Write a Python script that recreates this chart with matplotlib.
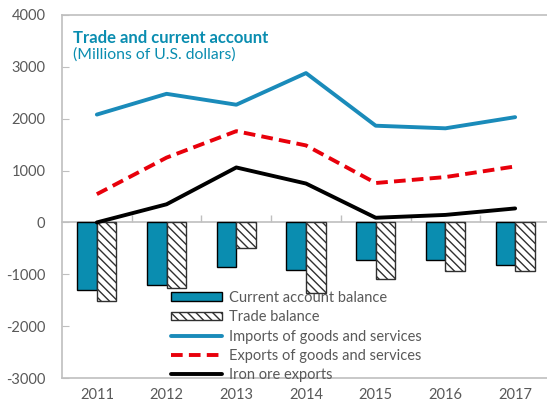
import matplotlib
matplotlib.use('Agg')
import matplotlib.pyplot as plt
import numpy as np

plt.rcParams['font.family'] = ['Lato', 'DejaVu Sans']
plt.rcParams['hatch.linewidth'] = 1.0
plt.rcParams['axes.unicode_minus'] = False

years = ['2011', '2012', '2013', '2014', '2015', '2016', '2017']
current_account = [-1310, -1200, -865, -915, -730, -730, -815]
trade_balance = [-1520, -1260, -500, -1360, -1095, -940, -940]
imports = [2080, 2480, 2270, 2880, 1865, 1815, 2030]
exports = [545, 1250, 1760, 1485, 760, 875, 1080]
iron_ore = [0, 350, 1060, 750, 90, 145, 270]

grey = '#595959'
axis_grey = '#BFBFBF'
teal = '#0A8DB0'
blue = '#1A8BBA'
red = '#E8000B'

fig = plt.figure(figsize=(5.47, 4.08), dpi=100)
ax = fig.add_axes([62 / 547, 30 / 408, 488 / 547, 363 / 408])

x = np.arange(len(years))
width = 0.28

b1 = ax.bar(x - width / 2, current_account, width, color=teal,
            edgecolor='black', linewidth=1, zorder=2)
b2 = ax.bar(x + width / 2, trade_balance, width, color='white',
            edgecolor='#303030', linewidth=1, hatch='\\\\\\\\', zorder=2)

l1, = ax.plot(x, imports, color=blue, linewidth=2.8, zorder=3,
              solid_capstyle='round')
l2, = ax.plot(x, exports, color=red, linewidth=2.8, zorder=3,
              dashes=(3.0, 1.6))
l3, = ax.plot(x, iron_ore, color='black', linewidth=2.8, zorder=3,
              solid_capstyle='round')

ax.set_xlim(-0.5, len(years) - 0.5)
ax.set_ylim(-3000, 4000)
ax.set_yticks(np.arange(-3000, 4001, 1000))
ax.tick_params(axis='y', direction='in', length=5, color=axis_grey,
               labelcolor=grey, labelsize=10.5, pad=12)

ax.set_xticks(x)
ax.set_xticklabels(years)
ax.tick_params(axis='x', length=0, labelcolor=grey, labelsize=10.5, pad=7)

for s in ['left', 'top', 'bottom']:
    ax.spines[s].set_color(axis_grey)
    ax.spines[s].set_linewidth(1.2)
ax.spines['right'].set_visible(False)

# zero line with category ticks
zero = ax.secondary_xaxis(0, transform=ax.transData)
zero.set_xticks(np.arange(0.5, len(years) - 0.5, 1))
zero.set_xticklabels([])
zero.tick_params(direction='in', length=5, color=axis_grey, width=1)
zero.spines['bottom'].set_color(axis_grey)
zero.spines['bottom'].set_linewidth(1.2)

fig.text(73 / 547, 1 - 43 / 408, 'Trade and current account', color=teal,
         fontsize=12, fontweight='bold', va='baseline')
fig.text(73 / 547, 1 - 59 / 408, '(Millions of U.S. dollars)', color=teal,
         fontsize=11.3, va='baseline')

leg = fig.legend([b1, b2, l1, l2, l3],
                 ['Current account balance', 'Trade balance',
                  'Imports of goods and services',
                  'Exports of goods and services', 'Iron ore exports'],
                 loc='upper left', bbox_to_anchor=(171 / 547, 1 - 291 / 408),
                 frameon=False, fontsize=10.5, labelcolor=grey,
                 handlelength=3.5, handleheight=0.55, handletextpad=0.45,
                 labelspacing=0.36, borderpad=0, borderaxespad=0)

fig.savefig('out.png', dpi=100)
